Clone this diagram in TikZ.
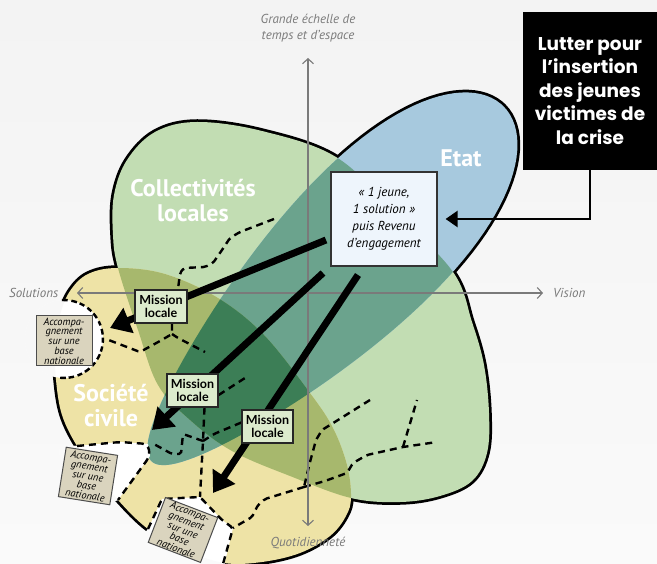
\documentclass[tikz,border=0pt]{standalone}
\usepackage{fontspec}
\setmainfont{PT Sans}
\newfontfamily\gotham{Lato}
\newfontfamily\gothamb{Poppins}
\usetikzlibrary{arrows.meta}
\pgfdeclarelayer{bg}
\pgfdeclarelayer{mid}
\pgfsetlayers{bg,mid,main}

\definecolor{bgtop}{HTML}{F3F3F3}
\definecolor{bgbot}{HTML}{FAFAFA}
\definecolor{cgreen}{HTML}{C2DDB3}
\definecolor{cyellow}{HTML}{EEE3A6}
\definecolor{cblue}{HTML}{A7C9DE}
\definecolor{cteal}{HTML}{6BA38D}
\definecolor{colive}{HTML}{A7B86D}
\definecolor{cdark}{HTML}{3C7E56}
\definecolor{axisgray}{HTML}{7A7A7A}
\definecolor{mlfill}{HTML}{DCEBCD}
\definecolor{accfill}{HTML}{DAD4BE}
\definecolor{jeunefill}{HTML}{EEF5FC}

\begin{document}
\begin{tikzpicture}[x=1pt,y=-1pt,
  shapeline/.style={line width=5.5pt, line join=round},
  dashline/.style={line width=2.4pt, dash pattern=on 7pt off 5pt, black, rounded corners=2pt},
  axisline/.style={draw=axisgray, line width=1.1pt, {Straight Barb[length=5pt,width=11pt]}-{Straight Barb[length=5pt,width=11pt]}},
  bigarrow/.style={line width=7pt, -{Triangle[length=20pt,width=26pt]}},
  mlbox/.style={draw=black!85, line width=1.3pt, fill=mlfill, minimum width=52pt, minimum height=33pt, inner sep=0pt, align=center, font=\gotham\bfseries\fontsize{12.5}{13.5}\selectfont},
  accbox/.style={draw=black!70, line width=1pt, fill=accfill, minimum width=56pt, minimum height=50pt, inner sep=0pt, align=center, font=\itshape\fontsize{10.4}{9.7}\selectfont},
  axlabel/.style={text=axisgray, font=\itshape\fontsize{13}{15.5}\selectfont, inner sep=0pt, align=center},
  titletext/.style={text=white, font=\bfseries\fontsize{24}{25}\selectfont, align=center, inner sep=0pt},
]
\useasboundingbox (0,0) rectangle (657,564);

\def\Gpath{plot[smooth cycle, tension=0.6] coordinates {(118,268) (113,235) (114,195) (127,160) (155,132) (197,122) (262,131) (336,157) (395,212) (453,272) (472,322) (484,365) (489,413) (487,453) (472,481) (440,496) (400,502) (351,498) (290,476) (232,451) (190,420) (158,385) (138,330)}}
\def\Ypath{plot[smooth cycle, tension=0.6] coordinates {(118,268) (165,274) (218,298) (264,335) (310,393) (333,428) (347,465) (351,497) (346,516) (330,536) (300,553) (262,562) (224,563) (185,550) (148,529) (118,500) (97,473) (77,446) (62,415) (56,380) (55,345) (60,315) (70,291) (88,274)}}
\def\Epath{plot[domain=0:358, samples=120, variable=\a] ({333+0.704*(250*cos(\a)-8)+0.710*(78+25*cos(\a))*sin(\a)}, {278-0.710*(250*cos(\a)-8)+0.704*(78+25*cos(\a))*sin(\a)}) -- cycle}
\def\NotchA{(64,339) circle[radius=39pt]}
\def\NotchB{(77,446) -- (120,442) -- (148,444) -- (150,456) -- (118,500) -- (100,506) -- (58,470) -- (60,446) -- cycle}
\def\NotchC{(148,529) -- (162,499) -- (200,497) -- (222,520) -- (233,528) -- (224,566) -- (180,566) -- (140,540) -- cycle}

% ---------- boxes and labels (top layer) ----------
\node[fill=black, text=white, minimum width=134pt, minimum height=158pt, inner sep=0pt, align=center,
  font=\gothamb\bfseries\fontsize{18.5}{23.5}\selectfont] (bb) at (590,91)
  {Lutter pour\\l’insertion\\des jeunes\\victimes de\\la crise};
\node[draw=black!80, line width=1.2pt, fill=jeunefill, minimum width=106pt, minimum height=94pt, inner sep=0pt,
  align=center, font=\itshape\fontsize{13}{17}\selectfont] (jeune) at (384,219)
  {« 1 jeune,\\1 solution »\\puis Revenu\\d’engagement};
\node[mlbox] (mlA) at (161,306.5) {Mission\\locale};
\node[mlbox, minimum width=51pt] (mlB) at (192.5,390.5) {Mission\\locale};
\node[mlbox, minimum width=51pt] (mlC) at (267.5,426.5) {Mission\\locale};
\node[accbox] (acc1) at (64,341) {Accompa-\\gnement\\sur une\\base\\nationale};
\node[accbox, rotate=-9, minimum width=52pt] (acc2) at (88,476) {Accompa-\\gnement\\sur une\\base\\nationale};
\node[accbox, rotate=-21, minimum height=48pt] (acc3) at (183,530) {Accompa-\\gnement\\sur une\\base\\nationale};
\node[titletext] (coll) at (193,200.5) {Collectivités\\locales};
\node[titletext] (etat) at (461,158) {Etat};
\node[titletext] (soc) at (111,405.5) {Société\\civile};
\node[axlabel] (ylab) at (308,28) {Grande échelle de\\temps et d’espace};
\node[axlabel, anchor=west] (xlab) at (9,293) {Solutions};
\node[axlabel, anchor=west] (xrlab) at (553,293) {Vision};
\node[axlabel] (yblab) at (308,543) {Quotidienneté};

% ---------- shapes ----------
\begin{pgfonlayer}{bg}
\shade[top color=bgtop, bottom color=bgbot] (0,0) rectangle (657,564);
\draw[shapeline] \Gpath;
\draw[shapeline] \Ypath;
\draw[shapeline] \Epath;
\fill[cgreen] \Gpath;
\fill[cyellow] \Ypath;
\fill[cblue] \Epath;
\begin{scope}\clip \Gpath; \fill[cteal] \Epath; \end{scope}
\begin{scope}\clip \Ypath; \fill[cteal] \Epath; \end{scope}
\begin{scope}\clip \Gpath; \fill[colive] \Ypath; \end{scope}
\begin{scope}\clip \Gpath; \clip \Ypath; \fill[cdark] \Epath; \end{scope}
% white notches bitten out of the civil-society shape
\fill[white] \NotchA;
\fill[white] \NotchB;
\fill[white] \NotchC;
% outside the shape the notches show the background again
\begin{scope}[even odd rule]\clip \NotchA; \clip (-20,-20) rectangle (680,590) \Ypath;
  \shade[top color=bgtop, bottom color=bgbot] (0,0) rectangle (657,564); \end{scope}
\begin{scope}[even odd rule]\clip \NotchB; \clip (-20,-20) rectangle (680,590) \Ypath;
  \shade[top color=bgtop, bottom color=bgbot] (0,0) rectangle (657,564); \end{scope}
\begin{scope}[even odd rule]\clip \NotchC; \clip (-20,-20) rectangle (680,590) \Ypath;
  \shade[top color=bgtop, bottom color=bgbot] (0,0) rectangle (657,564); \end{scope}
% notch borders
\draw[dashline] plot[domain=-93:100, samples=40, variable=\t] ({64+39*cos(\t)}, {339+39*sin(\t)});
\draw[dashline, rounded corners=6pt] (77,446) -- (120,442) -- (148,444) -- (150,456) -- (118,500);
\draw[dashline, rounded corners=3pt] (148,529) -- (162,499) -- (200,497) coordinate (n3a) -- (222,520) -- (233,528) coordinate (n3b) -- (223,564);
% dashed network
\draw[dashline] (274,219) -- (240,232) -- (230,238) -- (222,250) -- (213,263) -- (205,267) -- (184,268) -- (180,273) -- ([xshift=17pt]mlA.north);
\draw[dashline] ([xshift=11pt]mlA.south) -- (172,334) coordinate (j1) -- (160,341) -- (140,352) -- (106,339);
\draw[dashline] (j1) -- (178,338) -- (205,352);
\draw[dashline] ([yshift=-4.5pt]mlB.east) -- (245,378);
\draw[dashline] ([xshift=12pt]mlB.south) -- (203,441) coordinate (j2) -- (n3a);
\draw[dashline] ([yshift=4pt]mlC.west) -- (214,434) -- (j2);
\draw[dashline] (j2) -- (183,434) -- (181,454) -- (172,454) -- (152,443);
\draw[dashline] (370,400) -- (322,430) -- (316,440) -- (310,462) -- (304,487) coordinate (j3);
\draw[dashline] (j3) -- (325,481) -- (347,473) -- (353,463) -- (367,455) -- (403,447) coordinate (j4) -- (437,442);
\draw[dashline] (j4) -- (417,400);
\draw[dashline] (j3) -- (265,499) -- (258,505) -- (252,517) -- (n3b);
\end{pgfonlayer}

% ---------- axes and arrows ----------
\begin{pgfonlayer}{mid}
\coordinate (ytop) at (308,58);
\coordinate (ybot) at (308,526);
\coordinate (xleft) at (77,293);
\coordinate (xright) at (543,293);
\draw[axisline] (ybot) -- (ytop);
\draw[axisline] (xleft) -- (xright);
\coordinate (s1) at (326,240); \coordinate (t1) at (110,328);
\coordinate (s2) at (323,273); \coordinate (t2) at (152,430);
\coordinate (s3) at (358,275); \coordinate (t3) at (213,493);
\draw[bigarrow] (s1) -- (t1);
\draw[bigarrow] (s2) -- (t2);
\draw[bigarrow] (s3) -- (t3);
\draw[line width=2.5pt, -{Triangle[length=12pt,width=16pt]}] (bb.south) |- ([xshift=8pt]jeune.east);
\end{pgfonlayer}
\end{tikzpicture}
\end{document}
